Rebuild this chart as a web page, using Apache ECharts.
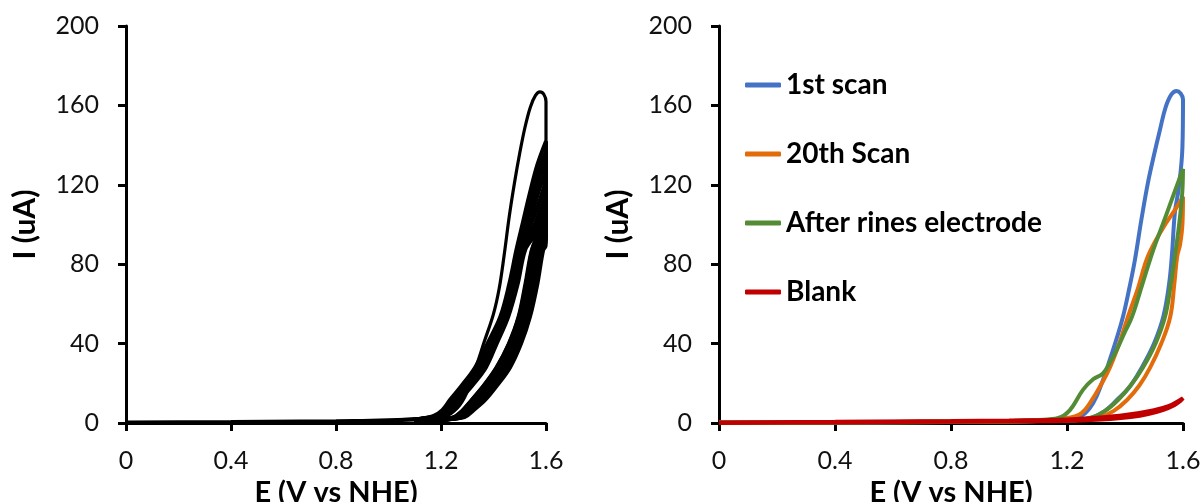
<!DOCTYPE html>
<html>
<head>
<meta charset="utf-8">
<script src="https://cdn.jsdelivr.net/npm/echarts@6/dist/echarts.min.js"></script>
<style>
  html, body { margin: 0; padding: 0; background: #fff; }
  #chart { width: 1204px; height: 502px; }
</style>
</head>
<body>
<div id="chart"></div>
<script>
// Axis ticks and labels
const xTickLabels = ['0', '0.4', '0.8', '1.2', '1.6'];
const yTickLabels = ['0', '40', '80', '120', '160', '200'];
const xTitle = 'E (V vs NHE)';
const yTitle = 'I (uA)';

// Left panel: repeated CV cycles as [E (V), I (uA)], forward sweep then reverse sweep.
// Flat background current below 1.1 V, shared by all cycles.
const leftBaseline = [
  [0, 0.2], [0.4, 0.5], [0.8, 0.9], [1.0, 1.2], [1.1, 1.8],
  [1.1, 1.1], [0.8, 0.6], [0.4, 0.3], [0, 0]
];
const cycle01 = [
  [1.1, 1.8], [1.2, 2.5], [1.25, 6], [1.29, 13], [1.33, 27], [1.365, 41], [1.4, 55], [1.422, 68],
  [1.44, 84], [1.46, 104], [1.48, 121], [1.50, 136], [1.52, 149], [1.54, 159], [1.56, 165],
  [1.577, 166.8], [1.592, 165.5], [1.6, 162], [1.6, 141], [1.597, 124], [1.588, 108], [1.57, 96],
  [1.544, 87], [1.52, 70], [1.494, 53.5], [1.457, 40], [1.41, 28], [1.362, 19], [1.315, 11.6],
  [1.278, 6], [1.248, 3], [1.2, 1.6], [1.1, 1.1]
];
const cycle02 = [
  [1.1, 1.8], [1.17, 3.5], [1.205, 6.5], [1.234, 11.6], [1.28, 19], [1.33, 28], [1.377, 40],
  [1.426, 53.5], [1.46, 70], [1.487, 87], [1.512, 101], [1.537, 115], [1.567, 130], [1.6, 142],
  [1.598, 126], [1.59, 110], [1.572, 97], [1.547, 87], [1.524, 70], [1.497, 53.5], [1.46, 40],
  [1.413, 28], [1.365, 19], [1.318, 11.6], [1.28, 6], [1.25, 3], [1.2, 1.6], [1.1, 1.1]
];
const cycle03 = [
  [1.1, 1.8], [1.175, 3.5], [1.21, 6.5], [1.239, 11.6], [1.285, 19], [1.335, 28], [1.382, 40],
  [1.43, 53.5], [1.464, 70], [1.491, 87], [1.515, 100], [1.541, 112], [1.57, 126], [1.6, 137],
  [1.598, 122], [1.591, 107], [1.576, 96], [1.552, 87], [1.529, 70], [1.502, 53.5], [1.466, 40],
  [1.419, 28], [1.371, 19], [1.324, 11.6], [1.285, 6], [1.255, 3], [1.2, 1.6], [1.1, 1.1]
];
const cycle04 = [
  [1.1, 1.8], [1.18, 3.5], [1.215, 6.5], [1.244, 11.6], [1.29, 19], [1.34, 28], [1.386, 40],
  [1.434, 53.5], [1.468, 70], [1.495, 87], [1.52, 99], [1.545, 110], [1.572, 122], [1.6, 132],
  [1.598, 118], [1.592, 104], [1.58, 95], [1.557, 87], [1.534, 70], [1.507, 53.5], [1.472, 40],
  [1.425, 28], [1.377, 19], [1.33, 11.6], [1.29, 6], [1.26, 3], [1.2, 1.6], [1.1, 1.1]
];
const cycle05 = [
  [1.1, 1.8], [1.185, 3.5], [1.219, 6.5], [1.248, 11.6], [1.295, 19], [1.346, 28], [1.391, 40],
  [1.438, 53.5], [1.472, 70], [1.499, 87], [1.525, 98], [1.55, 107], [1.575, 118], [1.6, 127],
  [1.599, 114], [1.593, 101], [1.583, 94], [1.563, 87], [1.54, 70], [1.512, 53.5], [1.478, 40],
  [1.431, 28], [1.383, 19], [1.336, 11.6], [1.295, 6], [1.265, 3], [1.2, 1.6], [1.1, 1.1]
];
const cycle06 = [
  [1.1, 1.8], [1.19, 3.5], [1.224, 6.5], [1.253, 11.6], [1.3, 19], [1.351, 28], [1.395, 40],
  [1.442, 53.5], [1.476, 70], [1.503, 87], [1.53, 97], [1.555, 104], [1.578, 113], [1.6, 122],
  [1.599, 110], [1.594, 99], [1.585, 93], [1.568, 87], [1.546, 70], [1.518, 53.5], [1.484, 40],
  [1.438, 28], [1.39, 19], [1.342, 11.6], [1.3, 6], [1.27, 3], [1.2, 1.6], [1.1, 1.1]
];
const cycle07 = [
  [1.1, 1.8], [1.195, 3.5], [1.229, 6.5], [1.258, 11.6], [1.305, 19], [1.356, 28], [1.4, 40],
  [1.446, 53.5], [1.48, 70], [1.507, 87], [1.535, 96], [1.56, 101], [1.582, 109], [1.6, 117],
  [1.599, 106], [1.595, 97], [1.587, 92], [1.573, 87], [1.551, 70], [1.523, 53.5], [1.49, 40],
  [1.444, 28], [1.396, 19], [1.349, 11.6], [1.305, 6], [1.275, 3], [1.2, 1.6], [1.1, 1.1]
];
const cycle08 = [
  [1.1, 1.8], [1.2, 3.5], [1.233, 6.5], [1.262, 11.6], [1.31, 19], [1.361, 28], [1.404, 40],
  [1.45, 53.5], [1.484, 70], [1.511, 87], [1.54, 95], [1.565, 99], [1.585, 105], [1.6, 112],
  [1.6, 103], [1.596, 95], [1.59, 91], [1.578, 87], [1.556, 70], [1.528, 53.5], [1.495, 40],
  [1.45, 28], [1.402, 19], [1.355, 11.6], [1.31, 6], [1.28, 3], [1.2, 1.6], [1.1, 1.1]
];
const cycle09 = [
  [1.1, 1.8], [1.205, 3.5], [1.238, 6.5], [1.267, 11.6], [1.315, 19], [1.366, 28], [1.408, 40],
  [1.453, 53.5], [1.488, 70], [1.515, 87], [1.545, 94], [1.568, 97], [1.587, 101], [1.6, 106],
  [1.6, 99], [1.597, 93], [1.592, 90], [1.584, 87], [1.562, 70], [1.534, 53.5], [1.5, 40],
  [1.456, 28], [1.408, 19], [1.362, 11.6], [1.315, 6], [1.285, 3], [1.2, 1.6], [1.1, 1.1]
];
const cycle10 = [
  [1.1, 1.8], [1.21, 3.5], [1.243, 6.5], [1.272, 11.6], [1.32, 19], [1.371, 28], [1.412, 40],
  [1.456, 53.5], [1.492, 70], [1.52, 87], [1.55, 93], [1.572, 95], [1.59, 97], [1.6, 100],
  [1.6, 93], [1.598, 89], [1.589, 87], [1.567, 70], [1.539, 53.5], [1.505, 40], [1.463, 28],
  [1.414, 19], [1.368, 11.6], [1.32, 6], [1.29, 3], [1.2, 1.6], [1.1, 1.1]
];
const leftCycles = [cycle02, cycle03, cycle04, cycle05, cycle06, cycle07, cycle08, cycle09, cycle10];

// Right panel series
const seriesNames = ['1st scan', '20th Scan', 'After rines electrode', 'Blank'];
const scan1st = [
  [0, 0.3], [0.4, 0.5], [0.8, 0.8], [1.0, 1.0], [1.1, 1.3], [1.2, 1.8], [1.25, 3.5], [1.29, 10],
  [1.32, 20], [1.348, 32], [1.37, 42], [1.393, 53.5], [1.415, 68], [1.434, 82], [1.456, 102],
  [1.479, 121], [1.50, 135], [1.521, 148], [1.54, 159], [1.56, 165.5], [1.578, 167.3],
  [1.592, 166], [1.6, 163], [1.598, 139], [1.585, 118], [1.572, 106], [1.562, 85], [1.552, 70],
  [1.532, 53.5], [1.50, 40], [1.458, 28], [1.415, 18], [1.372, 11.6], [1.33, 6], [1.29, 3],
  [1.25, 1.8], [1.2, 1.2], [1.0, 0.8], [0.8, 0.5], [0.4, 0.3], [0, 0.1]
];
const scan20th = [
  [0, 0.2], [0.4, 0.4], [0.8, 0.7], [1.0, 1.0], [1.1, 1.4], [1.2, 2.5], [1.25, 5], [1.286, 11.6],
  [1.32, 20], [1.348, 28], [1.38, 40], [1.41, 53.5], [1.445, 68], [1.479, 84], [1.53, 98],
  [1.575, 108], [1.6, 114], [1.598, 100], [1.59, 90], [1.58, 84], [1.57, 70], [1.556, 53.5],
  [1.525, 40], [1.487, 28], [1.45, 19], [1.407, 11.6], [1.36, 6], [1.31, 2.8], [1.25, 1.6],
  [1.2, 1.2], [1.0, 0.8], [0.8, 0.5], [0.4, 0.3], [0, 0.1]
];
const afterRinse = [
  [0, 0.2], [0.4, 0.4], [0.8, 0.7], [1.0, 1.0], [1.1, 1.5], [1.17, 2.5], [1.21, 6.5], [1.255, 16.7],
  [1.29, 22], [1.324, 25], [1.35, 31], [1.372, 37], [1.40, 46], [1.424, 53.5], [1.46, 70],
  [1.497, 87], [1.53, 100], [1.56, 112], [1.585, 122], [1.6, 128], [1.597, 115], [1.585, 98],
  [1.572, 84], [1.558, 70], [1.538, 53.5], [1.505, 40], [1.462, 28], [1.42, 19], [1.376, 11.6],
  [1.33, 6], [1.28, 2.5], [1.22, 1.4], [1.0, 0.8], [0.8, 0.5], [0.4, 0.3], [0, 0.1]
];
const blank = [
  [0, 0.3], [0.4, 0.6], [0.8, 1.0], [1.0, 1.3], [1.2, 1.8], [1.3, 2.6], [1.4, 4], [1.5, 6.5],
  [1.55, 8.5], [1.6, 12.5], [1.59, 11], [1.57, 9], [1.53, 6.5], [1.48, 4.5], [1.42, 3],
  [1.35, 2], [1.25, 1.3], [1.1, 0.9], [0.8, 0.6], [0.4, 0.3], [0, 0]
];
const rightData = [scan1st, scan20th, afterRinse, blank];
const rightColors = ['#4472C4', '#E36C0A', '#548C36', '#C00000'];

const FONT = 'Lato, "Open Sans", sans-serif';

function makeXAxis(gridIndex) {
  return {
    type: 'value', gridIndex, min: 0, max: 1.6, interval: 0.4,
    name: xTitle, nameLocation: 'middle', nameGap: 50,
    nameTextStyle: { fontFamily: FONT, fontSize: 29, fontWeight: 'bold', color: '#000' },
    axisLine: { show: true, onZero: false, lineStyle: { color: '#000', width: 3 } },
    axisTick: { show: true, inside: false, length: 8, lineStyle: { color: '#000', width: 3 } },
    axisLabel: {
      margin: 25, fontFamily: FONT, fontSize: 25, color: '#111',
      formatter: v => xTickLabels[Math.round(v / 0.4)]
    },
    splitLine: { show: false }
  };
}
function makeYAxis(gridIndex) {
  return {
    type: 'value', gridIndex, min: 0, max: 200, interval: 40,
    name: yTitle, nameLocation: 'middle', nameGap: 86, nameRotate: 90,
    nameTextStyle: { fontFamily: FONT, fontSize: 30, fontWeight: 'bold', color: '#000' },
    axisLine: { show: true, onZero: false, lineStyle: { color: '#000', width: 3 } },
    axisTick: { show: true, inside: false, length: 8, lineStyle: { color: '#000', width: 3 } },
    axisLabel: {
      margin: 27, fontFamily: FONT, fontSize: 25, color: '#111',
      formatter: v => yTickLabels[Math.round(v / 40)]
    },
    splitLine: { show: false }
  };
}

const series = [];
series.push({
  name: 'baseline', type: 'line', xAxisIndex: 0, yAxisIndex: 0,
  data: leftBaseline, symbol: 'none', clip: false, silent: true,
  lineStyle: { color: '#000', width: 4 }, z: 2
});
leftCycles.forEach((d, i) => {
  series.push({
    name: 'cycle' + (i + 2), type: 'line', xAxisIndex: 0, yAxisIndex: 0,
    data: d, symbol: 'none', smooth: 0.35, clip: false, silent: true,
    lineStyle: { color: '#000', width: 4 }, z: 2
  });
});
series.push({
  name: 'cycle1', type: 'line', xAxisIndex: 0, yAxisIndex: 0,
  data: cycle01, symbol: 'none', smooth: 0.35, clip: false, silent: true,
  lineStyle: { color: '#000', width: 3.2 }, z: 2
});
rightData.forEach((d, i) => {
  series.push({
    name: seriesNames[i], type: 'line', xAxisIndex: 1, yAxisIndex: 1,
    data: d, symbol: 'none', smooth: 0.4, clip: false,
    itemStyle: { color: rightColors[i] },
    lineStyle: { color: rightColors[i], width: 4 }, z: 2 + i
  });
});

const chart = echarts.init(document.getElementById('chart'), null, { renderer: 'canvas' });
chart.setOption({
  animation: false,
  backgroundColor: '#fff',
  grid: [
    { left: 126, right: 658, top: 26, bottom: 79, outerBoundsMode: 'none', containLabel: false },
    { left: 719, right: 21, top: 26, bottom: 79, outerBoundsMode: 'none', containLabel: false }
  ],
  xAxis: [makeXAxis(0), makeXAxis(1)],
  yAxis: [makeYAxis(0), makeYAxis(1)],
  legend: {
    data: seriesNames, orient: 'vertical', left: 740, top: 66,
    itemWidth: 36, itemHeight: 5, itemGap: 41,
    icon: 'roundRect',
    textStyle: { fontFamily: FONT, fontSize: 28, fontWeight: 'bold', color: '#000' }
  },
  series
});
</script>
</body>
</html>
